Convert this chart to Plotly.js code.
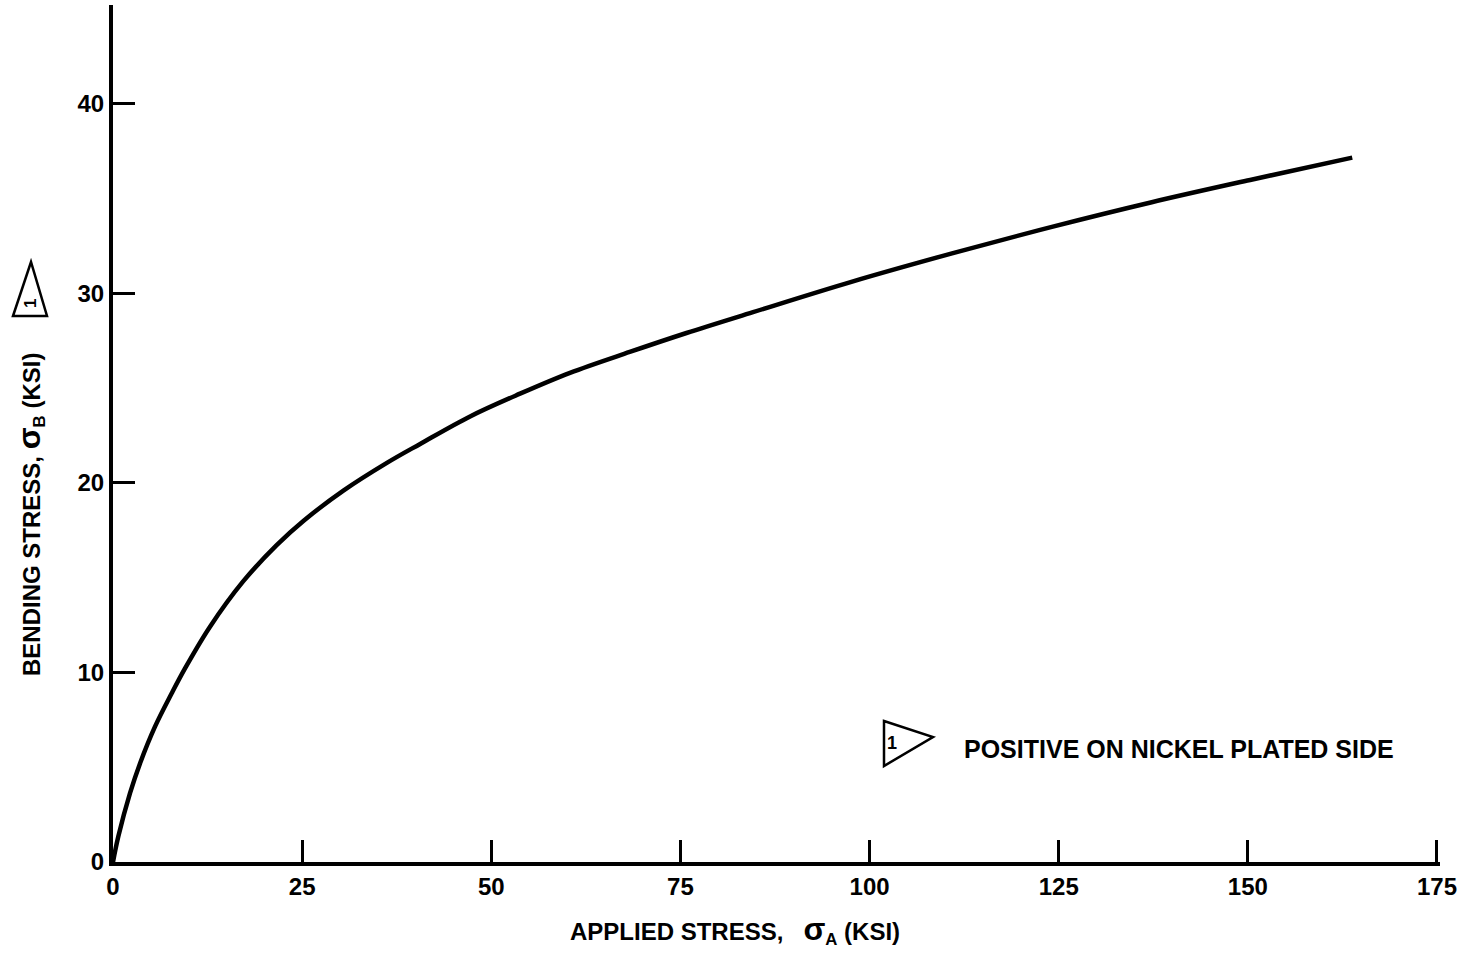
<!DOCTYPE html>
<html>
<head>
<meta charset="utf-8">
<script src="https://cdn.plot.ly/plotly-3.0.1.min.js"></script>
<style>
html,body{margin:0;padding:0;background:#fff;}
#chart{width:1462px;height:957px;}
</style>
</head>
<body>
<div id="chart"></div>
<script>
// Data
const appliedStress = [0, 0.7, 2.25, 3.57, 5.55, 7.76, 9.5, 12.8, 17.2, 21.6, 25.2, 30.5, 36.2, 40.6, 47.2, 53.8, 60.4, 68.3, 75.8, 84.6, 97.6, 110.9, 124.1, 137.3, 150.6, 163.8];
const bendingStress = [0, 1.34, 3.63, 5.2, 7.14, 8.9, 10.2, 12.4, 14.8, 16.7, 18.0, 19.6, 21.05, 22.05, 23.5, 24.7, 25.8, 26.9, 27.9, 29.0, 30.6, 32.1, 33.5, 34.8, 36.0, 37.15];
const xTicks = [0, 25, 50, 75, 100, 125, 150, 175];
const yTicks = [0, 10, 20, 30, 40];
const xTitle = "APPLIED STRESS,&nbsp;&nbsp;&nbsp;<span style='font-size:32px'>σ</span><sub>A</sub> (KSI)";
const yTitle = "BENDING STRESS,&nbsp;<span style='font-size:32px'>σ</span><sub>B</sub> (KSI)";
const noteText = "POSITIVE ON NICKEL PLATED SIDE";

// layout geometry helpers (pixel -> paper)
const L = 113, R = 22, T = 5, B = 95, W = 1462, H = 957;
const pw = W - L - R, ph = H - T - B;
const px = v => ((v - L) / pw).toFixed(5);
const py = v => ((H - B - v) / ph).toFixed(5);

const font = {family: "Liberation Sans, Arial, sans-serif", color: "#000", weight: "bold"};
const f = s => Object.assign({size: s}, font);

const trace = {
  x: appliedStress, y: bendingStress, type: "scatter", mode: "lines",
  line: {color: "#000", width: 4.5, shape: "spline", smoothing: 1},
  hoverinfo: "skip", showlegend: false
};

const flagPath = "M" + px(884) + "," + py(721) + " L" + px(933) + "," + py(737) + " L" + px(884) + "," + py(766) + " Z";
const triPath = "M" + px(13) + "," + py(316) + " L" + px(31) + "," + py(262) + " L" + px(47) + "," + py(316) + " Z";

const layout = {
  width: W, height: H,
  margin: {l: L, r: R, t: T, b: B},
  paper_bgcolor: "#fff", plot_bgcolor: "#fff",
  showlegend: false,
  xaxis: {
    range: [0, 175.4], tickvals: xTicks, ticktext: xTicks.map(String),
    showgrid: false, zeroline: false,
    showline: true, linewidth: 4, linecolor: "#000",
    ticks: "inside", ticklen: 22, tickwidth: 3, tickcolor: "#000",
    tickfont: f(24)
  },
  yaxis: {
    range: [0, 45.2], tickvals: yTicks, ticktext: yTicks.map(String),
    showgrid: false, zeroline: false,
    showline: true, linewidth: 4, linecolor: "#000",
    ticks: "inside", ticklen: 22, tickwidth: 3, tickcolor: "#000",
    tickfont: f(24)
  },
  shapes: [
    {type: "path", xref: "paper", yref: "paper", path: flagPath, line: {color: "#000", width: 2.5}},
    {type: "path", xref: "paper", yref: "paper", path: triPath, line: {color: "#000", width: 2.5}}
  ],
  annotations: [
    {xref: "paper", yref: "paper", x: +px(735), y: +py(930), text: xTitle, showarrow: false,
     xanchor: "center", yanchor: "middle", font: f(24)},
    {xref: "paper", yref: "paper", x: +px(30), y: +py(514), text: yTitle, showarrow: false,
     textangle: -90, xanchor: "center", yanchor: "middle", font: f(24)},
    {xref: "paper", yref: "paper", x: +px(962), y: +py(749), text: noteText, showarrow: false,
     xanchor: "left", yanchor: "middle", font: f(25)},
    {xref: "paper", yref: "paper", x: +px(892), y: +py(743), text: "1", showarrow: false,
     xanchor: "center", yanchor: "middle", font: f(18)},
    {xref: "paper", yref: "paper", x: +px(31), y: +py(304), text: "1", showarrow: false,
     textangle: -90, xanchor: "center", yanchor: "middle", font: f(17)}
  ]
};

Plotly.newPlot("chart", [trace], layout, {displayModeBar: false, staticPlot: true});
</script>
</body>
</html>
